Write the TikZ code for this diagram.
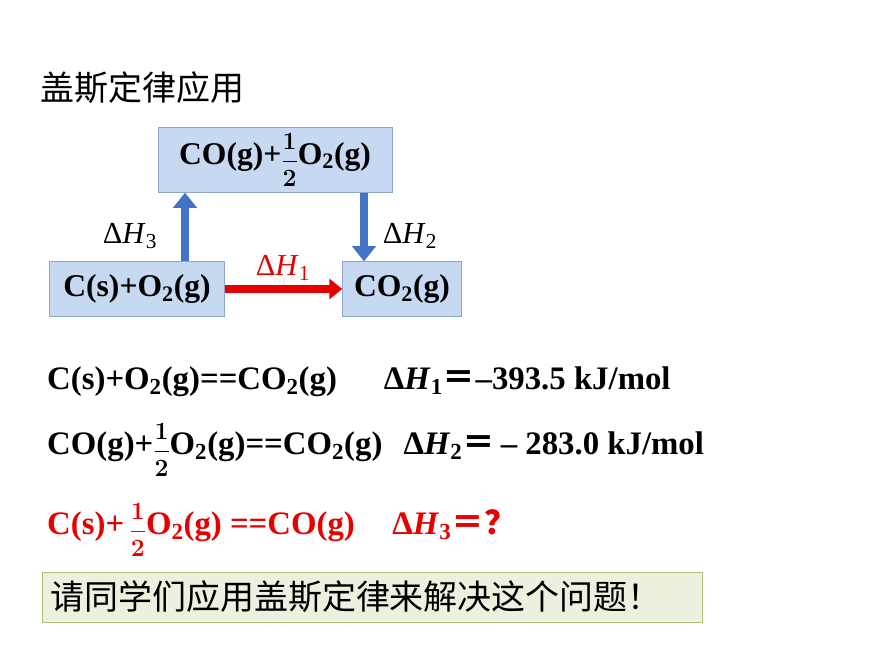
\documentclass[tikz,border=0pt]{standalone}
\usepackage{fontspec}
\usepackage{amsmath,bm,graphicx}
\setmainfont{Liberation Serif}
\newfontfamily\cjk{Noto Sans CJK SC}
\usetikzlibrary{arrows.meta}
\definecolor{boxblue}{RGB}{198,217,241}
\definecolor{boxline}{RGB}{140,165,200}
\definecolor{arrblue}{RGB}{68,114,196}
\definecolor{boxgreen}{RGB}{235,241,222}
\definecolor{greenline}{RGB}{170,195,120}
\definecolor{eqred}{RGB}{230,0,0}
\newcommand{\half}{\raisebox{-3pt}{\scalebox{0.85}{$\bm{\dfrac{1}{2}}$}}}
\tikzset{
  chem/.style={draw=boxline, fill=boxblue, inner sep=0pt, font=\bfseries\fontsize{27}{29}\selectfont},
  eq/.style={anchor=west, inner sep=0pt, font=\bfseries\fontsize{28}{30}\selectfont},
  lab/.style={inner sep=0pt, font=\fontsize{26}{28}\selectfont},
  blockarr/.style={arrblue, line width=7pt, -{Triangle[length=13pt,width=20pt]}}
}
\begin{document}
\begin{tikzpicture}[x=0.03cm, y=-0.03cm]
  \useasboundingbox (0,0) rectangle (870,653);
  % Nodi
  \node[anchor=west, inner sep=0pt, font=\cjk\fontsize{29}{31}\selectfont] (title) at (40,88) {盖斯定律应用};
  \node[chem, minimum width=234*0.03cm, minimum height=65*0.03cm] (co) at (275,160) {CO(g)+\half O\textsubscript{2}(g)};
  \node[chem, minimum width=175*0.03cm, minimum height=55*0.03cm] (c) at (137,289) {C(s)+O\textsubscript{2}(g)};
  \node[chem, minimum width=119*0.03cm, minimum height=55*0.03cm] (co2) at (402,289) {CO\textsubscript{2}(g)};
  \node[lab] (h3) at (130,236) {Δ\textit{H}\textsubscript{3}};
  \node[lab] (h2) at (410,236) {Δ\textit{H}\textsubscript{2}};
  \node[lab, text=eqred] (h1) at (283,268) {Δ\textit{H}\textsubscript{1}};
  % Archi
  \draw[blockarr] (c.north -| 185,0) -- (co.south -| 185,0);
  \draw[blockarr] (co.south -| 364,0) -- (co2.north -| 364,0);
  \draw[eqred, line width=6pt, -{Triangle[length=11pt,width=17pt]}] (c.east) -- (co2.west);
  % Equazioni
  \node[eq] (e1) at (47,382) {C(s)+O\textsubscript{2}(g)==CO\textsubscript{2}(g)\hspace{40pt}Δ\textit{H}\textsubscript{1}{\cjk＝}–393.5 kJ/mol};
  \node[eq] (e2) at (47,450) {CO(g)+\half O\textsubscript{2}(g)==CO\textsubscript{2}(g)\hspace{18pt}Δ\textit{H}\textsubscript{2}{\cjk＝}\,– 283.0 kJ/mol};
  \node[eq, text=eqred] (e3) at (47,530) {C(s)+\,\half O\textsubscript{2}(g) ==CO(g)\hspace{32pt}Δ\textit{H}\textsubscript{3}{\cjk＝？}};
  \node[draw=greenline, fill=boxgreen, anchor=west, minimum width=660*0.03cm, minimum height=50*0.03cm, inner sep=0pt] (tip) at (42,597) {};
  \node[anchor=west, inner sep=0pt, font=\cjk\fontsize{29}{31}\selectfont] (tiptext) at (50,597) {请同学们应用盖斯定律来解决这个问题！};
\end{tikzpicture}
\end{document}
